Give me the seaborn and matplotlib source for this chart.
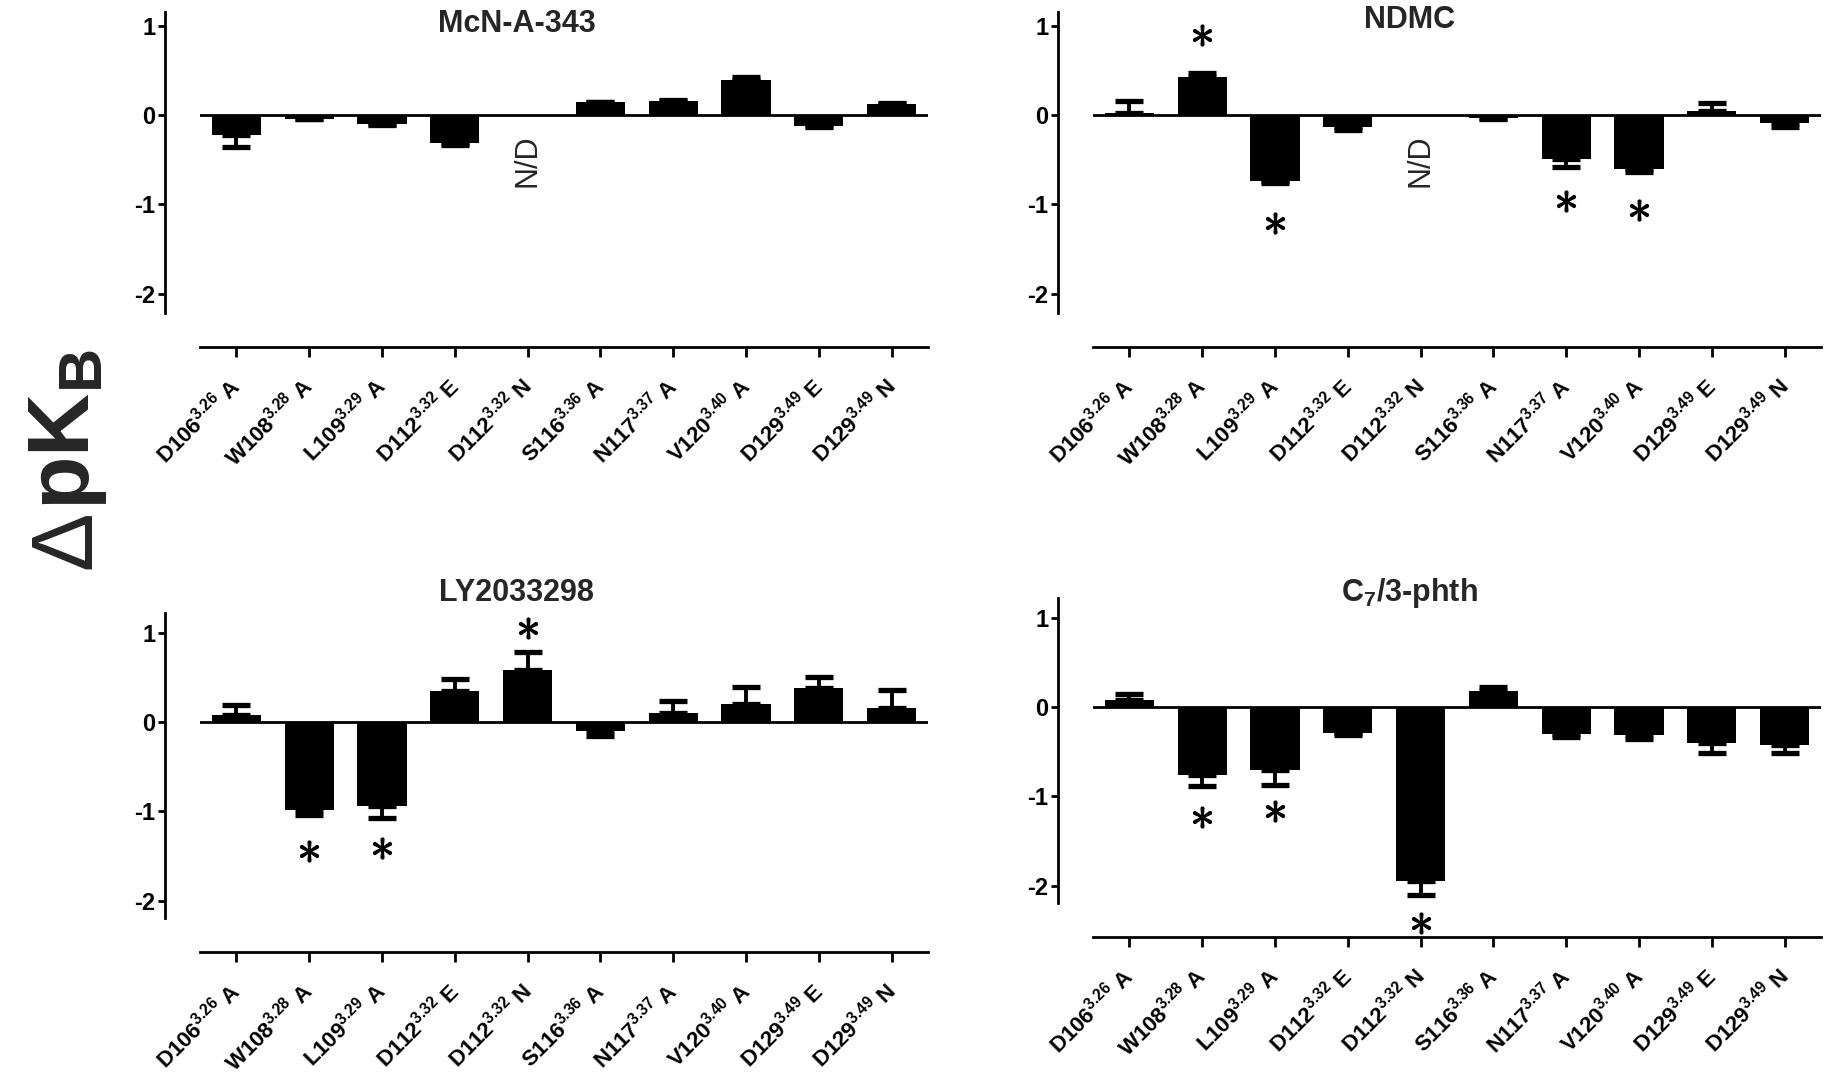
import numpy as np
import pandas as pd
import matplotlib
matplotlib.use("Agg")
import matplotlib.pyplot as plt
import seaborn as sns

# ---------------- data ----------------
mutants = ["D106", "W108", "L109", "D112", "D112", "S116", "N117", "V120", "D129", "D129"]
positions = ["3.26", "3.28", "3.29", "3.32", "3.32", "3.36", "3.37", "3.40", "3.49", "3.49"]
substit = ["A", "A", "A", "E", "N", "A", "A", "A", "E", "N"]

titles = ["McN-A-343", "NDMC", "LY2033298", r"C$_{\mathbf{7}}$/3-phth"]

mcn_vals = [-0.23, -0.04, -0.10, -0.31, np.nan, 0.14, 0.16, 0.39, -0.12, 0.12]
mcn_errs = [0.13, 0.01, 0.01, 0.03, np.nan, 0.01, 0.01, 0.04, 0.01, 0.01]
mcn_sig = []
mcn_nd = [4]

ndmc_vals = [0.02, 0.43, -0.74, -0.13, np.nan, -0.03, -0.49, -0.60, 0.04, -0.09]
ndmc_errs = [0.14, 0.04, 0.02, 0.04, np.nan, 0.01, 0.09, 0.04, 0.09, 0.05]
ndmc_sig = [1, 2, 6, 7]
ndmc_nd = [4]

ly_vals = [0.08, -0.98, -0.94, 0.35, 0.58, -0.10, 0.10, 0.20, 0.38, 0.16]
ly_errs = [0.11, 0.06, 0.13, 0.13, 0.20, 0.06, 0.14, 0.19, 0.12, 0.20]
ly_sig = [1, 2, 4]
ly_nd = []

c7_vals = [0.08, -0.76, -0.70, -0.29, -1.95, 0.18, -0.30, -0.31, -0.40, -0.43]
c7_errs = [0.07, 0.12, 0.17, 0.02, 0.16, 0.04, 0.04, 0.05, 0.12, 0.08]
c7_sig = [1, 2, 4]
c7_nd = []

yticks = [1, 0, -1, -2]

# ---------------- style ----------------
sns.set_style("white")
plt.rcParams["font.family"] = ["Liberation Sans", "DejaVu Sans"]
plt.rcParams["mathtext.fontset"] = "custom"
plt.rcParams["mathtext.rm"] = "Liberation Sans"
plt.rcParams["mathtext.bf"] = "Liberation Sans:bold"
plt.rcParams["mathtext.it"] = "Liberation Sans:italic"

labels = [f"{m}$^{{\\mathbf{{{p}}}}}$ {s}" for m, p, s in zip(mutants, positions, substit)]

W, H = 1839, 1078
fig = plt.figure(figsize=(W / 100, H / 100), dpi=100)

axes_px = [  # left px, bottom frac, height frac, ylim, title y (axes frac)
    (200, 0.7095, 0.2791, (-2.22, 1.15), 0.962),
    (1093, 0.7095, 0.2791, (-2.22, 1.15), 0.975),
    (200, 0.148, 0.2833, (-2.2, 1.22), 1.066),
    (1093, 0.1619, 0.2833, (-2.2, 1.22), 1.017),
]
panels = [
    (mcn_vals, mcn_errs, mcn_sig, mcn_nd),
    (ndmc_vals, ndmc_errs, ndmc_sig, ndmc_nd),
    (ly_vals, ly_errs, ly_sig, ly_nd),
    (c7_vals, c7_errs, c7_sig, c7_nd),
]

for (lpx, bot, hgt, ylim, ty), (vals, errs, sig, nd), title in zip(axes_px, panels, titles):
    ax = fig.add_axes([lpx / W, bot, 728 / W, hgt])
    df = pd.DataFrame({"mutant": labels, "value": vals})
    sns.barplot(data=df, x="mutant", y="value", order=labels, color="black",
                saturation=1, width=0.676, errorbar=None, linewidth=0, ax=ax)
    v = np.array(vals, dtype=float)
    e = np.array(errs, dtype=float)
    ok = ~np.isnan(v)
    xs = np.arange(len(v))[ok]
    lower = np.where(v[ok] < 0, e[ok], 0)
    upper = np.where(v[ok] >= 0, e[ok], 0)
    ax.errorbar(xs, v[ok], yerr=[lower, upper], fmt="none", ecolor="black",
                elinewidth=2.8, capsize=10, capthick=3.8, zorder=3)
    ax.axhline(0, color="black", lw=2.0, zorder=4)
    for i in sig:
        sgn = 1 if v[i] >= 0 else -1
        ax.plot([i], [v[i] + sgn * 0.47], marker=r"$\ast$", ms=15, color="black",
                linestyle="none", clip_on=False, zorder=5)
    for i in nd:
        ax.text(i, -0.51, "N/D", rotation=90, ha="center", va="center", fontsize=22)

    # spines first (set_position resets ticks)
    for s in ["top", "right"]:
        ax.spines[s].set_visible(False)
    ax.spines["left"].set_position(("outward", 25))
    ax.spines["bottom"].set_position(("outward", 24.5))
    for s in ["left", "bottom"]:
        ax.spines[s].set_linewidth(2.0)
        ax.spines[s].set_color("black")

    ax.set_xlim(-0.5, len(labels) - 0.5)
    ax.set_ylim(*ylim)
    ax.set_yticks(yticks)
    ax.set_yticklabels([str(t) for t in yticks], fontsize=17, fontweight="bold")
    ax.set_xticks(range(len(labels)))
    ax.set_xticklabels(labels, rotation=45, ha="right", va="center",
                       rotation_mode="anchor", fontsize=16, fontweight="bold")
    ax.set_xlabel("")
    ax.set_ylabel("")
    ax.tick_params(axis="y", direction="out", length=5, width=2.0, pad=2, colors="black", left=True)
    ax.tick_params(axis="x", direction="out", length=7.2, width=2.0, pad=18, colors="black", bottom=True)
    ax.text(0.435, ty, title, transform=ax.transAxes, ha="center", va="center",
            fontsize=22, fontweight="bold")
    ax.set_facecolor("white")

# y label: thin delta followed by bold pK_B, running bottom-to-top
x0, y0 = 68 / W, 0.472
t1 = fig.text(x0, y0, "Δ", rotation=90, rotation_mode="anchor", ha="left", va="center",
              fontsize=63, fontweight="normal")
renderer = fig.canvas.get_renderer()
bb = t1.get_window_extent(renderer)
dy = bb.height / H
fig.text(x0, y0 + dy + 0.001, r"$\mathbf{pK}_{\mathbf{B}}$", rotation=90, rotation_mode="anchor",
         ha="left", va="center", fontsize=63)

fig.savefig("out.png", dpi=100, facecolor="white")
